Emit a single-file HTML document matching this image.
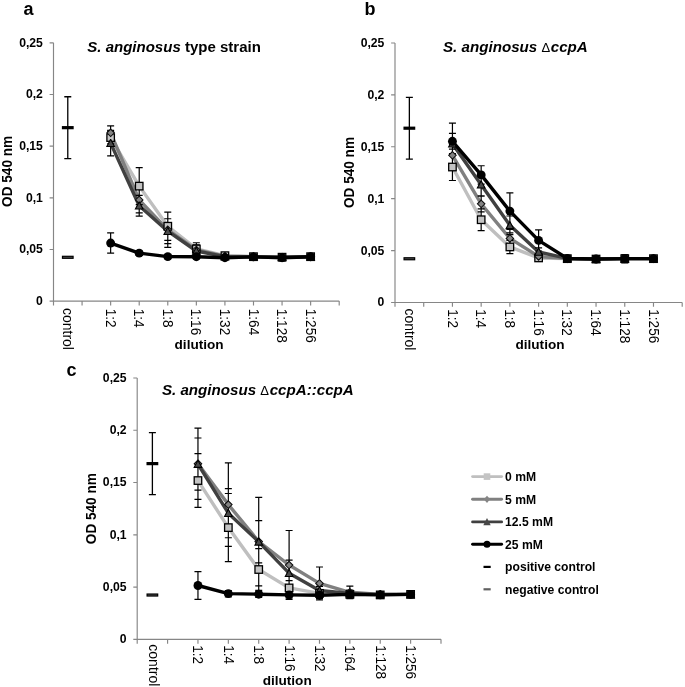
<!DOCTYPE html>
<html lang="en">
<head>
<meta charset="utf-8">
<title>S. anginosus biofilm formation</title>
<style>
html,body{margin:0;padding:0;background:#fff;}
body{width:685px;height:687px;overflow:hidden;}
svg{display:block;}
text{font-family:'Liberation Sans', Arial, Helvetica, sans-serif;fill:#000;}
.yt{font-size:12.2px;font-weight:bold;}
.xt{font-size:13.2px;}
.axl{font-size:13.6px;font-weight:bold;}
.ttl{font-size:15.15px;font-weight:bold;white-space:pre;}
.dl{font-weight:normal;font-style:normal;font-size:13px;letter-spacing:0.6px;}
.lbl{font-size:18px;font-weight:bold;}
.lg{font-size:12.15px;font-weight:bold;}
</style>
</head>
<body>
<svg width="685" height="687" viewBox="0 0 685 687">
<rect width="685" height="687" fill="#fff"/>
<g class="panel" id="panel-a">
<path d="M53.5 42.85V301.1H339.2M49.6 42.85H53.5M49.6 94.5H53.5M49.6 146.15H53.5M49.6 197.8H53.5M49.6 249.45H53.5M49.6 301.1H53.5M53.5 301.1V305.5M82.07 301.1V305.5M110.64 301.1V305.5M139.21 301.1V305.5M167.78 301.1V305.5M196.35 301.1V305.5M224.92 301.1V305.5M253.49 301.1V305.5M282.06 301.1V305.5M310.63 301.1V305.5M339.2 301.1V305.5" fill="none" stroke="#868686" stroke-width="1.15"/>
<text class="yt" x="42.9" y="305.05" text-anchor="end">0</text>
<text class="yt" x="42.9" y="253.4" text-anchor="end">0,05</text>
<text class="yt" x="42.9" y="201.75" text-anchor="end">0,1</text>
<text class="yt" x="42.9" y="150.1" text-anchor="end">0,15</text>
<text class="yt" x="42.9" y="98.45" text-anchor="end">0,2</text>
<text class="yt" x="42.9" y="46.8" text-anchor="end">0,25</text>
<text class="xt" transform="translate(63.08 308) rotate(90) scale(1.06 1.1)">control</text>
<text class="xt" transform="translate(105.74 308.8) rotate(90) scale(1.03 1.1)">1:2</text>
<text class="xt" transform="translate(134.31 308.8) rotate(90) scale(1.03 1.1)">1:4</text>
<text class="xt" transform="translate(162.88 308.8) rotate(90) scale(1.03 1.1)">1:8</text>
<text class="xt" transform="translate(191.45 308.8) rotate(90) scale(1.03 1.1)">1:16</text>
<text class="xt" transform="translate(220.02 308.8) rotate(90) scale(1.03 1.1)">1:32</text>
<text class="xt" transform="translate(248.59 308.8) rotate(90) scale(1.03 1.1)">1:64</text>
<text class="xt" transform="translate(277.16 308.8) rotate(90) scale(1.03 1.1)">1:128</text>
<text class="xt" transform="translate(305.73 308.8) rotate(90) scale(1.03 1.1)">1:256</text>
<text class="axl" text-anchor="middle" transform="translate(6.4 171.4) rotate(-90) scale(1 1.12)" y="4.8">OD 540 nm</text>
<text class="axl" text-anchor="middle" x="199.1" y="349.2">dilution</text>
<text class="ttl" x="87.3" y="52.2" style="font-size:15.03px"><tspan font-style="italic">S. anginosus</tspan><tspan> type strain</tspan></text>
<text class="lbl" x="23.6" y="14.8">a</text>
<path d="M67.78 96.77V158.55M64.28 96.77H71.28M64.28 158.55H71.28" fill="none" stroke="#000" stroke-width="1.3"/>
<rect x="61.88" y="126.06" width="11.8" height="3.2" fill="#000"/>
<rect x="62.48" y="256.3" width="10.6" height="2.0" fill="#505050" stroke="#000" stroke-width="1.2"/>
<path class="ln s0" d="M110.64 137.58L139.21 186.13L167.78 226.21L196.35 248.93L224.92 255.65L253.49 256.68L282.06 257.2L310.63 256.68" fill="none" stroke="#bfbfbf" stroke-width="3.4" stroke-linejoin="round" stroke-linecap="round"/>
<path class="ln s5" d="M110.64 132.82L139.21 199.97L167.78 229.82L196.35 249.97L224.92 256.16L253.49 256.68L282.06 257.2L310.63 256.68" fill="none" stroke="#808080" stroke-width="3.4" stroke-linejoin="round" stroke-linecap="round"/>
<path class="ln s12" d="M110.64 143.15L139.21 205.75L167.78 231.17L196.35 251L224.92 256.68L253.49 256.68L282.06 257.2L310.63 256.68" fill="none" stroke="#404040" stroke-width="3.4" stroke-linejoin="round" stroke-linecap="round"/>
<path class="ln s25" d="M110.64 243.05L139.21 253.17L167.78 256.58L196.35 256.68L224.92 257.71L253.49 256.89L282.06 257.71L310.63 256.68" fill="none" stroke="#000000" stroke-width="3.4" stroke-linejoin="round" stroke-linecap="round"/>
<path class="eb" d="M110.64 131.38V143.77M107.14 131.38H114.14M107.14 143.77H114.14M139.21 167.53V204.72M135.71 167.53H142.71M135.71 204.72H142.71M167.78 212.06V240.36M164.28 212.06H171.28M164.28 240.36H171.28M196.35 242.74V255.13M192.85 242.74H199.85M192.85 255.13H199.85M224.92 253.58V257.71M221.42 253.58H228.42M221.42 257.71H228.42M253.49 254.62V258.75M249.99 254.62H256.99M249.99 258.75H256.99M282.06 254.1V260.3M278.56 254.1H285.56M278.56 260.3H285.56M310.63 254.62V258.75M307.13 254.62H314.13M307.13 258.75H314.13M110.64 125.9V139.75M107.14 125.9H114.14M107.14 139.75H114.14M139.21 187.06V212.88M135.71 187.06H142.71M135.71 212.88H142.71M167.78 212.26V247.38M164.28 212.26H171.28M164.28 247.38H171.28M196.35 244.8V255.13M192.85 244.8H199.85M192.85 255.13H199.85M224.92 254.1V258.23M221.42 254.1H228.42M221.42 258.23H228.42M253.49 254.62V258.75M249.99 254.62H256.99M249.99 258.75H256.99M282.06 254.1V260.3M278.56 254.1H285.56M278.56 260.3H285.56M310.63 254.62V258.75M307.13 254.62H314.13M307.13 258.75H314.13M110.64 130.45V155.86M107.14 130.45H114.14M107.14 155.86H114.14M139.21 195.42V216.08M135.71 195.42H142.71M135.71 216.08H142.71M167.78 218.77V243.56M164.28 218.77H171.28M164.28 243.56H171.28M196.35 246.87V255.13M192.85 246.87H199.85M192.85 255.13H199.85M224.92 254.62V258.75M221.42 254.62H228.42M221.42 258.75H228.42M253.49 254.62V258.75M249.99 254.62H256.99M249.99 258.75H256.99M282.06 254.1V260.3M278.56 254.1H285.56M278.56 260.3H285.56M310.63 254.62V258.75M307.13 254.62H314.13M307.13 258.75H314.13M110.64 232.92V253.17M107.14 232.92H114.14M107.14 253.17H114.14M139.21 251.1V255.23M135.71 251.1H142.71M135.71 255.23H142.71M167.78 254.51V258.64M164.28 254.51H171.28M164.28 258.64H171.28M196.35 254.62V258.75M192.85 254.62H199.85M192.85 258.75H199.85M224.92 255.65V259.78M221.42 255.65H228.42M221.42 259.78H228.42M253.49 254.82V258.95M249.99 254.82H256.99M249.99 258.95H256.99M282.06 254.62V260.81M278.56 254.62H285.56M278.56 260.81H285.56M310.63 254.62V258.75M307.13 254.62H314.13M307.13 258.75H314.13" fill="none" stroke="#000" stroke-width="1.2"/>
<g class="mk s0"><rect x="106.89" y="133.83" width="7.5" height="7.5" fill="#c4c4c4" stroke="#000" stroke-width="1.3"/><rect x="135.46" y="182.38" width="7.5" height="7.5" fill="#c4c4c4" stroke="#000" stroke-width="1.3"/><rect x="164.03" y="222.46" width="7.5" height="7.5" fill="#c4c4c4" stroke="#000" stroke-width="1.3"/><rect x="192.6" y="245.18" width="7.5" height="7.5" fill="#c4c4c4" stroke="#000" stroke-width="1.3"/><rect x="221.17" y="251.9" width="7.5" height="7.5" fill="#c4c4c4" stroke="#000" stroke-width="1.3"/><rect x="249.74" y="252.93" width="7.5" height="7.5" fill="#c4c4c4" stroke="#000" stroke-width="1.3"/><rect x="278.31" y="253.45" width="7.5" height="7.5" fill="#c4c4c4" stroke="#000" stroke-width="1.3"/><rect x="306.88" y="252.93" width="7.5" height="7.5" fill="#c4c4c4" stroke="#000" stroke-width="1.3"/></g>
<g class="mk s5"><path d="M110.64 129.07L114.39 132.82L110.64 136.57L106.89 132.82Z" fill="#838383" stroke="#0d0d0d" stroke-width="1.05"/><path d="M139.21 196.22L142.96 199.97L139.21 203.72L135.46 199.97Z" fill="#838383" stroke="#0d0d0d" stroke-width="1.05"/><path d="M167.78 226.07L171.53 229.82L167.78 233.57L164.03 229.82Z" fill="#838383" stroke="#0d0d0d" stroke-width="1.05"/><path d="M196.35 246.22L200.1 249.97L196.35 253.72L192.6 249.97Z" fill="#838383" stroke="#0d0d0d" stroke-width="1.05"/><path d="M224.92 252.41L228.67 256.16L224.92 259.91L221.17 256.16Z" fill="#838383" stroke="#0d0d0d" stroke-width="1.05"/><path d="M253.49 252.93L257.24 256.68L253.49 260.43L249.74 256.68Z" fill="#838383" stroke="#0d0d0d" stroke-width="1.05"/><path d="M282.06 253.45L285.81 257.2L282.06 260.95L278.31 257.2Z" fill="#838383" stroke="#0d0d0d" stroke-width="1.05"/><path d="M310.63 252.93L314.38 256.68L310.63 260.43L306.88 256.68Z" fill="#838383" stroke="#0d0d0d" stroke-width="1.05"/></g>
<g class="mk s12"><path d="M110.64 139.25L114.44 146.45L106.84 146.45Z" fill="#4a4a4a" stroke="#000" stroke-width="1.1" stroke-linejoin="miter" stroke-miterlimit="2"/><path d="M139.21 201.85L143.01 209.05L135.41 209.05Z" fill="#4a4a4a" stroke="#000" stroke-width="1.1" stroke-linejoin="miter" stroke-miterlimit="2"/><path d="M167.78 227.27L171.58 234.47L163.98 234.47Z" fill="#4a4a4a" stroke="#000" stroke-width="1.1" stroke-linejoin="miter" stroke-miterlimit="2"/><path d="M196.35 247.1L200.15 254.3L192.55 254.3Z" fill="#4a4a4a" stroke="#000" stroke-width="1.1" stroke-linejoin="miter" stroke-miterlimit="2"/><path d="M224.92 252.78L228.72 259.98L221.12 259.98Z" fill="#4a4a4a" stroke="#000" stroke-width="1.1" stroke-linejoin="miter" stroke-miterlimit="2"/><path d="M253.49 252.78L257.29 259.98L249.69 259.98Z" fill="#4a4a4a" stroke="#000" stroke-width="1.1" stroke-linejoin="miter" stroke-miterlimit="2"/><path d="M282.06 253.3L285.86 260.5L278.26 260.5Z" fill="#4a4a4a" stroke="#000" stroke-width="1.1" stroke-linejoin="miter" stroke-miterlimit="2"/><path d="M310.63 252.78L314.43 259.98L306.83 259.98Z" fill="#4a4a4a" stroke="#000" stroke-width="1.1" stroke-linejoin="miter" stroke-miterlimit="2"/></g>
<g class="mk s25"><circle cx="110.64" cy="243.05" r="4.45" fill="#000"/><circle cx="139.21" cy="253.17" r="4.45" fill="#000"/><circle cx="167.78" cy="256.58" r="4.45" fill="#000"/><circle cx="196.35" cy="256.68" r="4.45" fill="#000"/><circle cx="224.92" cy="257.71" r="4.45" fill="#000"/><circle cx="253.49" cy="256.89" r="4.45" fill="#000"/><circle cx="282.06" cy="257.71" r="4.45" fill="#000"/><circle cx="310.63" cy="256.68" r="4.45" fill="#000"/></g>
</g>
<g class="panel" id="panel-b">
<path d="M395 43V302.45H682.2M391.1 43H395M391.1 94.89H395M391.1 146.78H395M391.1 198.67H395M391.1 250.56H395M391.1 302.45H395M395 302.45V306.85M423.72 302.45V306.85M452.44 302.45V306.85M481.16 302.45V306.85M509.88 302.45V306.85M538.6 302.45V306.85M567.32 302.45V306.85M596.04 302.45V306.85M624.76 302.45V306.85M653.48 302.45V306.85M682.2 302.45V306.85" fill="none" stroke="#868686" stroke-width="1.15"/>
<text class="yt" x="384.4" y="306.4" text-anchor="end">0</text>
<text class="yt" x="384.4" y="254.51" text-anchor="end">0,05</text>
<text class="yt" x="384.4" y="202.62" text-anchor="end">0,1</text>
<text class="yt" x="384.4" y="150.73" text-anchor="end">0,15</text>
<text class="yt" x="384.4" y="98.84" text-anchor="end">0,2</text>
<text class="yt" x="384.4" y="46.95" text-anchor="end">0,25</text>
<text class="xt" transform="translate(404.66 308.45) rotate(90) scale(1.06 1.1)">control</text>
<text class="xt" transform="translate(447.54 309.25) rotate(90) scale(1.03 1.1)">1:2</text>
<text class="xt" transform="translate(476.26 309.25) rotate(90) scale(1.03 1.1)">1:4</text>
<text class="xt" transform="translate(504.98 309.25) rotate(90) scale(1.03 1.1)">1:8</text>
<text class="xt" transform="translate(533.7 309.25) rotate(90) scale(1.03 1.1)">1:16</text>
<text class="xt" transform="translate(562.42 309.25) rotate(90) scale(1.03 1.1)">1:32</text>
<text class="xt" transform="translate(591.14 309.25) rotate(90) scale(1.03 1.1)">1:64</text>
<text class="xt" transform="translate(619.86 309.25) rotate(90) scale(1.03 1.1)">1:128</text>
<text class="xt" transform="translate(648.58 309.25) rotate(90) scale(1.03 1.1)">1:256</text>
<text class="axl" text-anchor="middle" transform="translate(348.3 172.5) rotate(-90) scale(1 1.12)" y="4.8">OD 540 nm</text>
<text class="axl" text-anchor="middle" x="540" y="349.2">dilution</text>
<text class="ttl" x="443" y="52.2"><tspan font-style="italic">S. anginosus </tspan><tspan class="dl">Δ</tspan><tspan font-style="italic">ccpA</tspan></text>
<text class="lbl" x="364.6" y="14.8">b</text>
<path d="M409.36 97.38V159.03M405.86 97.38H412.86M405.86 159.03H412.86" fill="none" stroke="#000" stroke-width="1.3"/>
<rect x="403.46" y="126.6" width="11.8" height="3.2" fill="#000"/>
<rect x="404.06" y="257.76" width="10.6" height="2.0" fill="#505050" stroke="#000" stroke-width="1.2"/>
<path class="ln s0" d="M452.44 167.02L481.16 219.74L509.88 246.93L538.6 257.93L567.32 258.65L596.04 259.07L624.76 258.65L653.48 258.65" fill="none" stroke="#bfbfbf" stroke-width="3.4" stroke-linejoin="round" stroke-linecap="round"/>
<path class="ln s5" d="M452.44 155.29L481.16 203.86L509.88 238.42L538.6 256.48L567.32 258.65L596.04 259.07L624.76 258.65L653.48 258.65" fill="none" stroke="#808080" stroke-width="3.4" stroke-linejoin="round" stroke-linecap="round"/>
<path class="ln s12" d="M452.44 143.67L481.16 184.66L509.88 225.34L538.6 252.01L567.32 258.45L596.04 259.07L624.76 258.65L653.48 258.65" fill="none" stroke="#404040" stroke-width="3.4" stroke-linejoin="round" stroke-linecap="round"/>
<path class="ln s25" d="M452.44 141.28L481.16 174.9L509.88 211.12L538.6 240.39L567.32 258.45L596.04 259.07L624.76 258.65L653.48 258.65" fill="none" stroke="#000000" stroke-width="3.4" stroke-linejoin="round" stroke-linecap="round"/>
<path class="eb" d="M452.44 153.53V180.51M448.94 153.53H455.94M448.94 180.51H455.94M481.16 208.84V230.63M477.66 208.84H484.66M477.66 230.63H484.66M509.88 240.29V253.57M506.38 240.29H513.38M506.38 253.57H513.38M538.6 255.85V260M535.1 255.85H542.1M535.1 260H542.1M567.32 256.58V260.73M563.82 256.58H570.82M563.82 260.73H570.82M596.04 256.99V261.15M592.54 256.99H599.54M592.54 261.15H599.54M624.76 255.54V261.77M621.26 255.54H628.26M621.26 261.77H628.26M653.48 255.54V261.77M649.98 255.54H656.98M649.98 261.77H656.98M452.44 144.29V166.29M448.94 144.29H455.94M448.94 166.29H455.94M481.16 195.87V211.85M477.66 195.87H484.66M477.66 211.85H484.66M509.88 232.92V243.92M506.38 232.92H513.38M506.38 243.92H513.38M538.6 253.36V259.59M535.1 253.36H542.1M535.1 259.59H542.1M567.32 256.58V260.73M563.82 256.58H570.82M563.82 260.73H570.82M596.04 256.99V261.15M592.54 256.99H599.54M592.54 261.15H599.54M624.76 255.54V261.77M621.26 255.54H628.26M621.26 261.77H628.26M653.48 255.54V261.77M649.98 255.54H656.98M649.98 261.77H656.98M452.44 123.12V164.22M448.94 123.12H455.94M448.94 164.22H455.94M481.16 173.24V196.08M477.66 173.24H484.66M477.66 196.08H484.66M509.88 216V234.68M506.38 216H513.38M506.38 234.68H513.38M538.6 247.86V256.16M535.1 247.86H542.1M535.1 256.16H542.1M567.32 256.37V260.52M563.82 256.37H570.82M563.82 260.52H570.82M596.04 256.99V261.15M592.54 256.99H599.54M592.54 261.15H599.54M624.76 255.54V261.77M621.26 255.54H628.26M621.26 261.77H628.26M653.48 255.54V261.77M649.98 255.54H656.98M649.98 261.77H656.98M452.44 133.39V149.17M448.94 133.39H455.94M448.94 149.17H455.94M481.16 165.77V184.04M477.66 165.77H484.66M477.66 184.04H484.66M509.88 192.96V229.29M506.38 192.96H513.38M506.38 229.29H513.38M538.6 229.8V250.98M535.1 229.8H542.1M535.1 250.98H542.1M567.32 256.37V260.52M563.82 256.37H570.82M563.82 260.52H570.82M596.04 256.99V261.15M592.54 256.99H599.54M592.54 261.15H599.54M624.76 254.5V262.81M621.26 254.5H628.26M621.26 262.81H628.26M653.48 255.54V261.77M649.98 255.54H656.98M649.98 261.77H656.98" fill="none" stroke="#000" stroke-width="1.2"/>
<g class="mk s0"><rect x="448.69" y="163.27" width="7.5" height="7.5" fill="#c4c4c4" stroke="#000" stroke-width="1.3"/><rect x="477.41" y="215.99" width="7.5" height="7.5" fill="#c4c4c4" stroke="#000" stroke-width="1.3"/><rect x="506.13" y="243.18" width="7.5" height="7.5" fill="#c4c4c4" stroke="#000" stroke-width="1.3"/><rect x="534.85" y="254.18" width="7.5" height="7.5" fill="#c4c4c4" stroke="#000" stroke-width="1.3"/><rect x="563.57" y="254.9" width="7.5" height="7.5" fill="#c4c4c4" stroke="#000" stroke-width="1.3"/><rect x="592.29" y="255.32" width="7.5" height="7.5" fill="#c4c4c4" stroke="#000" stroke-width="1.3"/><rect x="621.01" y="254.9" width="7.5" height="7.5" fill="#c4c4c4" stroke="#000" stroke-width="1.3"/><rect x="649.73" y="254.9" width="7.5" height="7.5" fill="#c4c4c4" stroke="#000" stroke-width="1.3"/></g>
<g class="mk s5"><path d="M452.44 151.54L456.19 155.29L452.44 159.04L448.69 155.29Z" fill="#838383" stroke="#0d0d0d" stroke-width="1.05"/><path d="M481.16 200.11L484.91 203.86L481.16 207.61L477.41 203.86Z" fill="#838383" stroke="#0d0d0d" stroke-width="1.05"/><path d="M509.88 234.67L513.63 238.42L509.88 242.17L506.13 238.42Z" fill="#838383" stroke="#0d0d0d" stroke-width="1.05"/><path d="M538.6 252.73L542.35 256.48L538.6 260.23L534.85 256.48Z" fill="#838383" stroke="#0d0d0d" stroke-width="1.05"/><path d="M567.32 254.9L571.07 258.65L567.32 262.4L563.57 258.65Z" fill="#838383" stroke="#0d0d0d" stroke-width="1.05"/><path d="M596.04 255.32L599.79 259.07L596.04 262.82L592.29 259.07Z" fill="#838383" stroke="#0d0d0d" stroke-width="1.05"/><path d="M624.76 254.9L628.51 258.65L624.76 262.4L621.01 258.65Z" fill="#838383" stroke="#0d0d0d" stroke-width="1.05"/><path d="M653.48 254.9L657.23 258.65L653.48 262.4L649.73 258.65Z" fill="#838383" stroke="#0d0d0d" stroke-width="1.05"/></g>
<g class="mk s12"><path d="M452.44 139.77L456.24 146.97L448.64 146.97Z" fill="#4a4a4a" stroke="#000" stroke-width="1.1" stroke-linejoin="miter" stroke-miterlimit="2"/><path d="M481.16 180.76L484.96 187.96L477.36 187.96Z" fill="#4a4a4a" stroke="#000" stroke-width="1.1" stroke-linejoin="miter" stroke-miterlimit="2"/><path d="M509.88 221.44L513.68 228.64L506.08 228.64Z" fill="#4a4a4a" stroke="#000" stroke-width="1.1" stroke-linejoin="miter" stroke-miterlimit="2"/><path d="M538.6 248.11L542.4 255.31L534.8 255.31Z" fill="#4a4a4a" stroke="#000" stroke-width="1.1" stroke-linejoin="miter" stroke-miterlimit="2"/><path d="M567.32 254.55L571.12 261.75L563.52 261.75Z" fill="#4a4a4a" stroke="#000" stroke-width="1.1" stroke-linejoin="miter" stroke-miterlimit="2"/><path d="M596.04 255.17L599.84 262.37L592.24 262.37Z" fill="#4a4a4a" stroke="#000" stroke-width="1.1" stroke-linejoin="miter" stroke-miterlimit="2"/><path d="M624.76 254.75L628.56 261.95L620.96 261.95Z" fill="#4a4a4a" stroke="#000" stroke-width="1.1" stroke-linejoin="miter" stroke-miterlimit="2"/><path d="M653.48 254.75L657.28 261.95L649.68 261.95Z" fill="#4a4a4a" stroke="#000" stroke-width="1.1" stroke-linejoin="miter" stroke-miterlimit="2"/></g>
<g class="mk s25"><circle cx="452.44" cy="141.28" r="4.45" fill="#000"/><circle cx="481.16" cy="174.9" r="4.45" fill="#000"/><circle cx="509.88" cy="211.12" r="4.45" fill="#000"/><circle cx="538.6" cy="240.39" r="4.45" fill="#000"/><circle cx="567.32" cy="258.45" r="4.45" fill="#000"/><circle cx="596.04" cy="259.07" r="4.45" fill="#000"/><circle cx="624.76" cy="258.65" r="4.45" fill="#000"/><circle cx="653.48" cy="258.65" r="4.45" fill="#000"/></g>
</g>
<g class="panel" id="panel-c">
<path d="M137.2 378V639.35H441M133.3 378H137.2M133.3 430.27H137.2M133.3 482.54H137.2M133.3 534.81H137.2M133.3 587.08H137.2M133.3 639.35H137.2M137.2 639.35V643.75M167.58 639.35V643.75M197.96 639.35V643.75M228.34 639.35V643.75M258.72 639.35V643.75M289.1 639.35V643.75M319.48 639.35V643.75M349.86 639.35V643.75M380.24 639.35V643.75M410.62 639.35V643.75M441 639.35V643.75" fill="none" stroke="#868686" stroke-width="1.15"/>
<text class="yt" x="126.6" y="643.3" text-anchor="end">0</text>
<text class="yt" x="126.6" y="591.03" text-anchor="end">0,05</text>
<text class="yt" x="126.6" y="538.76" text-anchor="end">0,1</text>
<text class="yt" x="126.6" y="486.49" text-anchor="end">0,15</text>
<text class="yt" x="126.6" y="434.22" text-anchor="end">0,2</text>
<text class="yt" x="126.6" y="381.95" text-anchor="end">0,25</text>
<text class="xt" transform="translate(149.29 644.35) rotate(90) scale(1.06 1.1)">control</text>
<text class="xt" transform="translate(193.46 645.15) rotate(90) scale(1.03 1.1)">1:2</text>
<text class="xt" transform="translate(223.84 645.15) rotate(90) scale(1.03 1.1)">1:4</text>
<text class="xt" transform="translate(254.22 645.15) rotate(90) scale(1.03 1.1)">1:8</text>
<text class="xt" transform="translate(284.6 645.15) rotate(90) scale(1.03 1.1)">1:16</text>
<text class="xt" transform="translate(314.98 645.15) rotate(90) scale(1.03 1.1)">1:32</text>
<text class="xt" transform="translate(345.36 645.15) rotate(90) scale(1.03 1.1)">1:64</text>
<text class="xt" transform="translate(375.74 645.15) rotate(90) scale(1.03 1.1)">1:128</text>
<text class="xt" transform="translate(406.12 645.15) rotate(90) scale(1.03 1.1)">1:256</text>
<text class="axl" text-anchor="middle" transform="translate(90.5 508.7) rotate(-90) scale(1 1.12)" y="4.8">OD 540 nm</text>
<text class="axl" text-anchor="middle" x="287.2" y="684.9">dilution</text>
<text class="ttl" x="161.9" y="394.5"><tspan font-style="italic">S. anginosus </tspan><tspan class="dl">Δ</tspan><tspan font-style="italic">ccpA::ccpA</tspan></text>
<text class="lbl" x="66.6" y="375.8">c</text>
<path d="M152.39 432.57V494.67M148.89 432.57H155.89M148.89 494.67H155.89" fill="none" stroke="#000" stroke-width="1.3"/>
<rect x="146.49" y="462.02" width="11.8" height="3.2" fill="#000"/>
<rect x="147.09" y="594.03" width="10.6" height="2.0" fill="#505050" stroke="#000" stroke-width="1.2"/>
<path class="ln s0" d="M197.96 480.55L228.34 527.6L258.72 569.52L289.1 587.92L319.48 593.35L349.86 594.4L380.24 594.92L410.62 594.4" fill="none" stroke="#bfbfbf" stroke-width="3.4" stroke-linejoin="round" stroke-linecap="round"/>
<path class="ln s5" d="M197.96 463.72L228.34 504.6L258.72 541.61L289.1 565.02L319.48 583.42L349.86 592.31L380.24 594.4L410.62 594.4" fill="none" stroke="#808080" stroke-width="3.4" stroke-linejoin="round" stroke-linecap="round"/>
<path class="ln s12" d="M197.96 464.04L228.34 513.17L258.72 541.81L289.1 573.18L319.48 590.53L349.86 593.35L380.24 594.4L410.62 594.4" fill="none" stroke="#404040" stroke-width="3.4" stroke-linejoin="round" stroke-linecap="round"/>
<path class="ln s25" d="M197.96 585.51L228.34 593.67L258.72 594.19L289.1 594.92L319.48 595.23L349.86 594.4L380.24 594.92L410.62 594.4" fill="none" stroke="#000000" stroke-width="3.4" stroke-linejoin="round" stroke-linecap="round"/>
<path class="eb" d="M197.96 453.69V507.42M194.46 453.69H201.46M194.46 507.42H201.46M228.34 493.52V561.68M224.84 493.52H231.84M224.84 561.68H231.84M258.72 548.61V590.43M255.22 548.61H262.22M255.22 590.43H262.22M289.1 580.6V595.23M285.6 580.6H292.6M285.6 595.23H292.6M319.48 590.22V596.49M315.98 590.22H322.98M315.98 596.49H322.98M349.86 591.26V597.53M346.36 591.26H353.36M346.36 597.53H353.36M380.24 592.83V597.01M376.74 592.83H383.74M376.74 597.01H383.74M410.62 592.31V596.49M407.12 592.31H414.12M407.12 596.49H414.12M197.96 428.07V499.37M194.46 428.07H201.46M194.46 499.37H201.46M228.34 462.78V546.41M224.84 462.78H231.84M224.84 546.41H231.84M258.72 497.38V585.83M255.22 497.38H262.22M255.22 585.83H262.22M289.1 530.52V599.52M285.6 530.52H292.6M285.6 599.52H292.6M319.48 567.01V599.83M315.98 567.01H322.98M315.98 599.83H322.98M349.86 586.03V598.58M346.36 586.03H353.36M346.36 598.58H353.36M380.24 592.31V596.49M376.74 592.31H383.74M376.74 596.49H383.74M410.62 592.31V596.49M407.12 592.31H414.12M407.12 596.49H414.12M197.96 438.01V490.07M194.46 438.01H201.46M194.46 490.07H201.46M228.34 488.6V537.74M224.84 488.6H231.84M224.84 537.74H231.84M258.72 520.7V562.93M255.22 520.7H262.22M255.22 562.93H262.22M289.1 560.21V586.14M285.6 560.21H292.6M285.6 586.14H292.6M319.48 586.35V594.71M315.98 586.35H322.98M315.98 594.71H322.98M349.86 590.22V596.49M346.36 590.22H353.36M346.36 596.49H353.36M380.24 592.31V596.49M376.74 592.31H383.74M376.74 596.49H383.74M410.62 592.31V596.49M407.12 592.31H414.12M407.12 596.49H414.12M197.96 571.61V599.42M194.46 571.61H201.46M194.46 599.42H201.46M228.34 590.53V596.8M224.84 590.53H231.84M224.84 596.8H231.84M258.72 591.05V597.32M255.22 591.05H262.22M255.22 597.32H262.22M289.1 591.78V598.06M285.6 591.78H292.6M285.6 598.06H292.6M319.48 592.1V598.37M315.98 592.1H322.98M315.98 598.37H322.98M349.86 592.31V596.49M346.36 592.31H353.36M346.36 596.49H353.36M380.24 592.83V597.01M376.74 592.83H383.74M376.74 597.01H383.74M410.62 592.31V596.49M407.12 592.31H414.12M407.12 596.49H414.12" fill="none" stroke="#000" stroke-width="1.2"/>
<g class="mk s0"><rect x="194.21" y="476.8" width="7.5" height="7.5" fill="#c4c4c4" stroke="#000" stroke-width="1.3"/><rect x="224.59" y="523.85" width="7.5" height="7.5" fill="#c4c4c4" stroke="#000" stroke-width="1.3"/><rect x="254.97" y="565.77" width="7.5" height="7.5" fill="#c4c4c4" stroke="#000" stroke-width="1.3"/><rect x="285.35" y="584.17" width="7.5" height="7.5" fill="#c4c4c4" stroke="#000" stroke-width="1.3"/><rect x="315.73" y="589.6" width="7.5" height="7.5" fill="#c4c4c4" stroke="#000" stroke-width="1.3"/><rect x="346.11" y="590.65" width="7.5" height="7.5" fill="#c4c4c4" stroke="#000" stroke-width="1.3"/><rect x="376.49" y="591.17" width="7.5" height="7.5" fill="#c4c4c4" stroke="#000" stroke-width="1.3"/><rect x="406.87" y="590.65" width="7.5" height="7.5" fill="#c4c4c4" stroke="#000" stroke-width="1.3"/></g>
<g class="mk s5"><path d="M197.96 459.97L201.71 463.72L197.96 467.47L194.21 463.72Z" fill="#838383" stroke="#0d0d0d" stroke-width="1.05"/><path d="M228.34 500.85L232.09 504.6L228.34 508.35L224.59 504.6Z" fill="#838383" stroke="#0d0d0d" stroke-width="1.05"/><path d="M258.72 537.86L262.47 541.61L258.72 545.36L254.97 541.61Z" fill="#838383" stroke="#0d0d0d" stroke-width="1.05"/><path d="M289.1 561.27L292.85 565.02L289.1 568.77L285.35 565.02Z" fill="#838383" stroke="#0d0d0d" stroke-width="1.05"/><path d="M319.48 579.67L323.23 583.42L319.48 587.17L315.73 583.42Z" fill="#838383" stroke="#0d0d0d" stroke-width="1.05"/><path d="M349.86 588.56L353.61 592.31L349.86 596.06L346.11 592.31Z" fill="#838383" stroke="#0d0d0d" stroke-width="1.05"/><path d="M380.24 590.65L383.99 594.4L380.24 598.15L376.49 594.4Z" fill="#838383" stroke="#0d0d0d" stroke-width="1.05"/><path d="M410.62 590.65L414.37 594.4L410.62 598.15L406.87 594.4Z" fill="#838383" stroke="#0d0d0d" stroke-width="1.05"/></g>
<g class="mk s12"><path d="M197.96 460.14L201.76 467.34L194.16 467.34Z" fill="#4a4a4a" stroke="#000" stroke-width="1.1" stroke-linejoin="miter" stroke-miterlimit="2"/><path d="M228.34 509.27L232.14 516.47L224.54 516.47Z" fill="#4a4a4a" stroke="#000" stroke-width="1.1" stroke-linejoin="miter" stroke-miterlimit="2"/><path d="M258.72 537.91L262.52 545.11L254.92 545.11Z" fill="#4a4a4a" stroke="#000" stroke-width="1.1" stroke-linejoin="miter" stroke-miterlimit="2"/><path d="M289.1 569.28L292.9 576.48L285.3 576.48Z" fill="#4a4a4a" stroke="#000" stroke-width="1.1" stroke-linejoin="miter" stroke-miterlimit="2"/><path d="M319.48 586.63L323.28 593.83L315.68 593.83Z" fill="#4a4a4a" stroke="#000" stroke-width="1.1" stroke-linejoin="miter" stroke-miterlimit="2"/><path d="M349.86 589.45L353.66 596.65L346.06 596.65Z" fill="#4a4a4a" stroke="#000" stroke-width="1.1" stroke-linejoin="miter" stroke-miterlimit="2"/><path d="M380.24 590.5L384.04 597.7L376.44 597.7Z" fill="#4a4a4a" stroke="#000" stroke-width="1.1" stroke-linejoin="miter" stroke-miterlimit="2"/><path d="M410.62 590.5L414.42 597.7L406.82 597.7Z" fill="#4a4a4a" stroke="#000" stroke-width="1.1" stroke-linejoin="miter" stroke-miterlimit="2"/></g>
<g class="mk s25"><circle cx="197.96" cy="585.51" r="4.45" fill="#000"/><circle cx="228.34" cy="593.67" r="4.45" fill="#000"/><circle cx="258.72" cy="594.19" r="4.45" fill="#000"/><circle cx="289.1" cy="594.92" r="4.45" fill="#000"/><circle cx="319.48" cy="595.23" r="4.45" fill="#000"/><circle cx="349.86" cy="594.4" r="4.45" fill="#000"/><circle cx="380.24" cy="594.92" r="4.45" fill="#000"/><circle cx="410.62" cy="594.4" r="4.45" fill="#000"/></g>
</g>
<g id="legend">
<path d="M472.6 476.6H501.6" stroke="#bfbfbf" stroke-width="2.9" stroke-linecap="round" fill="none"/>
<rect x="483.7" y="473.3" width="6.6" height="6.6" fill="#c4c4c4"/>
<text class="lg" x="505.1" y="480.9">0 mM</text>
<path d="M472.6 499.3H501.6" stroke="#808080" stroke-width="2.9" stroke-linecap="round" fill="none"/>
<path d="M487 495.7L490.1 499.3L487 502.9L483.9 499.3Z" fill="#858585"/>
<text class="lg" x="505.1" y="503.6">5 mM</text>
<path d="M472.6 521.9H501.6" stroke="#404040" stroke-width="2.9" stroke-linecap="round" fill="none"/>
<path d="M487 518L490.7 525.2L483.3 525.2Z" fill="#474747"/>
<text class="lg" x="505.1" y="526.2">12.5 mM</text>
<path d="M472.6 544.2H501.6" stroke="#000000" stroke-width="2.9" stroke-linecap="round" fill="none"/>
<circle cx="487" cy="544.2" r="3.5" fill="#000"/>
<text class="lg" x="505.1" y="548.5">25 mM</text>
<rect x="483.5" y="565.8" width="7.2" height="2.2" fill="#000"/>
<text class="lg" x="505.1" y="571.2">positive control</text>
<rect x="483.5" y="588.2" width="7.2" height="2.2" fill="#606060"/>
<text class="lg" x="505.1" y="593.6">negative control</text>
</g>
</svg>
</body>
</html>
